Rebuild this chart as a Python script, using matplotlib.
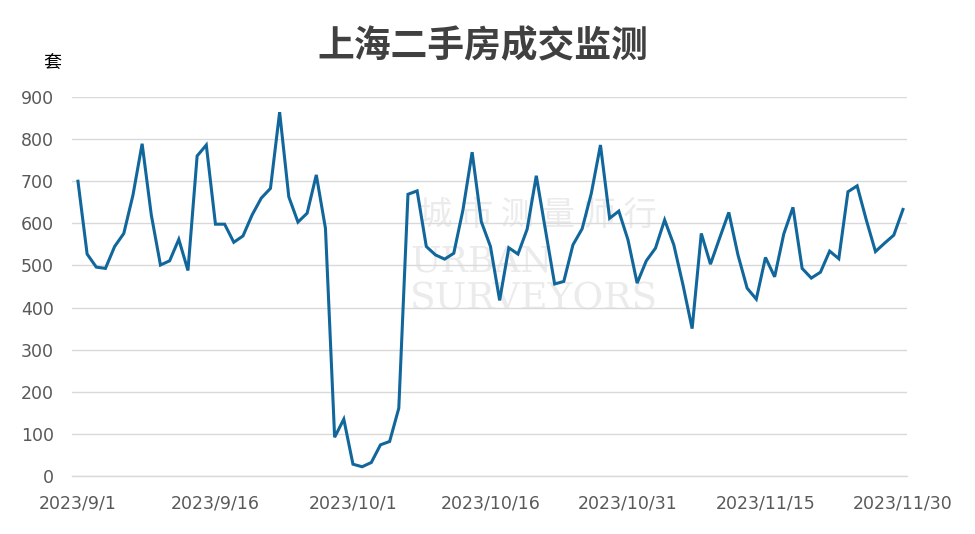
import matplotlib
matplotlib.use("Agg")
import matplotlib.pyplot as plt
import pandas as pd

plt.rcParams['font.family'] = ['Noto Sans CJK SC', 'DejaVu Sans']

start_date = "2023-09-01"
volumes = [700, 527, 496, 493, 545, 576, 667, 789, 620, 501,
           511, 562, 488, 760, 786, 598, 598, 555, 570, 620,
           660, 683, 864, 663, 603, 624, 715, 588, 92, 135,
           28, 22, 32, 74, 82, 161, 669, 677, 545, 525,
           515, 529, 632, 769, 604, 545, 417, 542, 527, 586,
           713, 584, 456, 462, 549, 587, 671, 786, 612, 629,
           561, 458, 511, 541, 608, 549, 454, 350, 576, 503,
           565, 626, 525, 446, 420, 519, 473, 575, 638, 493,
           470, 484, 534, 516, 675, 689, 608, 533, 553, 572, 633]
y_ticks = [0, 100, 200, 300, 400, 500, 600, 700, 800, 900]
tick_step_days = 15

dates = pd.date_range(start_date, periods=len(volumes), freq="D")
xs = list(range(len(volumes)))

fig = plt.figure(figsize=(9.75, 5.34), dpi=100)
ax = fig.add_axes([72 / 975, 1 - 476 / 534, (907 - 72) / 975, (476 - 97) / 534])

ax.plot(xs, volumes, color="#11679C", linewidth=2.2, zorder=3,
        solid_joinstyle="miter", clip_on=False)

ax.set_xlim(-0.65, len(volumes) - 1 + 0.44)
ax.set_ylim(0, 900)
ax.set_yticks(y_ticks)
ax.set_yticklabels([str(v) for v in y_ticks])
tick_pos = xs[::tick_step_days]
ax.set_xticks(tick_pos)
ax.set_xticklabels([f"{dates[i].year}/{dates[i].month}/{dates[i].day}" for i in tick_pos])

ax.grid(axis="y", color="#d9d9d9", linewidth=1.0, zorder=0)
ax.grid(axis="x", visible=False)
ax.axhline(0, color="#d9d9d9", linewidth=1.0, zorder=0, clip_on=False)
for s in ax.spines.values():
    s.set_visible(False)
ax.tick_params(axis="both", length=0, colors="#595959", labelsize=12.5)
ax.tick_params(axis="y", pad=13)
ax.tick_params(axis="x", pad=13)
for lab in ax.get_xticklabels() + ax.get_yticklabels():
    lab.set_family(["DejaVu Sans"])

# watermark (behind the line)
wm = "#ebebeb"
tf = fig.transFigure
ax.text(538 / 975, 1 - 215 / 534, "城 市 测 量 师 行", ha="center", va="center",
        fontsize=24, color=wm, zorder=1, transform=tf)
ax.text(410 / 975, 1 - 262 / 534, "URBAN", ha="left", va="center",
        fontsize=26, color=wm, zorder=1, family=["DejaVu Serif"], transform=tf)
ax.text(410 / 975, 1 - 300 / 534, "SURVEYORS", ha="left", va="center",
        fontsize=27, color=wm, zorder=1, family=["DejaVu Serif"], transform=tf)

fig.text(483 / 975, 1 - 47 / 534, "上海二手房成交监测", ha="center", va="center",
         fontsize=26.5, fontweight="bold", color="#404040")
fig.text(52 / 975, 1 - 63 / 534, "套", ha="center", va="center",
         fontsize=13, color="#000000")

fig.savefig("out.png", dpi=100)
